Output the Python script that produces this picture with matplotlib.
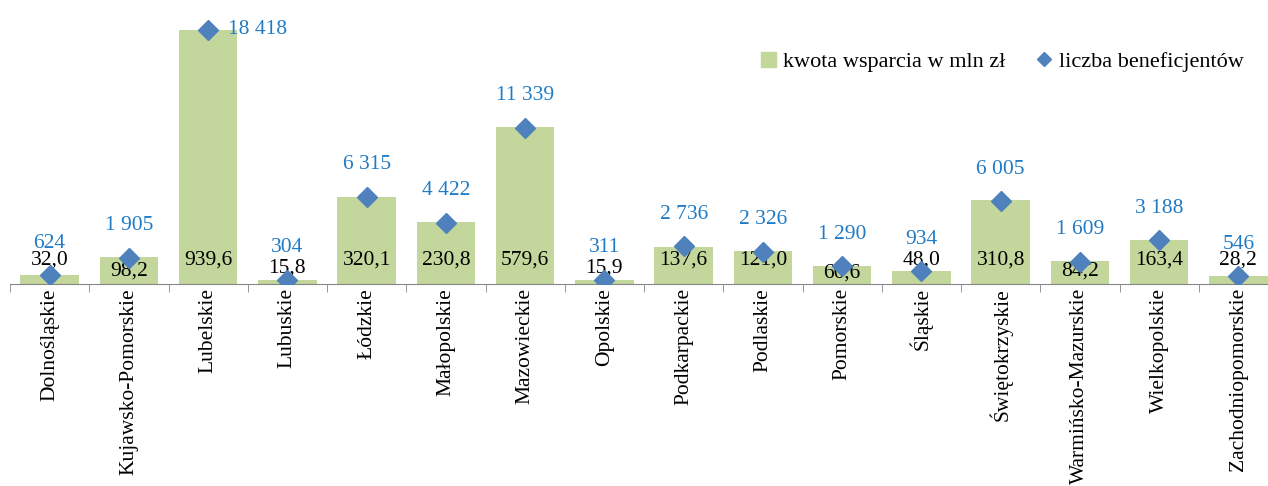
import matplotlib.pyplot as plt
import numpy as np
from matplotlib.lines import Line2D
from matplotlib.patches import Patch

# ------------------------------
# DATA
# ------------------------------
regions = ["Dolnośląskie", "Kujawsko-Pomorskie", "Lubelskie", "Lubuskie", "Łódzkie",
           "Małopolskie", "Mazowieckie", "Opolskie", "Podkarpackie", "Podlaskie",
           "Pomorskie", "Śląskie", "Świętokrzyskie", "Warmińsko-Mazurskie",
           "Wielkopolskie", "Zachodniopomorskie"]
kwota = [32.0, 98.2, 939.6, 15.8, 320.1, 230.8, 579.6, 15.9, 137.6, 121.0,
         66.6, 48.0, 310.8, 84.2, 163.4, 28.2]
beneficjenci = [624, 1905, 18418, 304, 6315, 4422, 11339, 311, 2736, 2326,
                1290, 934, 6005, 1609, 3188, 546]

bar_color = '#C3D69B'
dot_color = '#4F81BD'
lbl_blue = '#1F7BC6'

plt.rcParams['font.family'] = ['Liberation Serif', 'DejaVu Serif']

fig = plt.figure(figsize=(12.68, 4.86), dpi=100)
ax = fig.add_axes([10 / 1268, 202 / 486, 1268 / 1268, 284 / 486])
ax2 = ax.twinx()

x = np.arange(len(regions))
ax.bar(x, kwota, width=0.74, color=bar_color, zorder=1)
ax2.plot(x, beneficjenci, linestyle='none', marker='D', markersize=10.5,
         color=dot_color, zorder=3)

ax.set_xlim(-0.5, len(regions) - 0.5)
ax.set_ylim(0, 1050)
ax2.set_ylim(0, 20580)

# bar value labels (Excel pushed a few down to avoid collisions)
low = {1: 11, 3: 8, 7: 8, 10: 13, 13: 11}
for i, v in enumerate(kwota):
    dy = low.get(i, 0)
    ax.annotate(f"{v:.1f}".replace('.', ','), (i, 0), xytext=(0, 24 - dy),
                textcoords='offset pixels', ha='center', va='center',
                fontsize=15.5, color='black', zorder=4)

# beneficiary labels
for i, v in enumerate(beneficjenci):
    txt = f"{v:,}".replace(',', ' ')
    if i == 2:
        ax2.annotate(txt, (i, v), xytext=(20, 0), textcoords='offset pixels',
                     ha='left', va='center', fontsize=15.5, color=lbl_blue)
    else:
        ax2.annotate(txt, (i, v), xytext=(0, 32), textcoords='offset pixels',
                     ha='center', va='center', fontsize=15.5, color=lbl_blue)

for a in (ax, ax2):
    for s in ('top', 'left', 'right'):
        a.spines[s].set_visible(False)
    a.set_yticks([])
ax2.spines['bottom'].set_visible(False)
ax.spines['bottom'].set_color('#868686')

ax.set_xticks(x)
ax.set_xticklabels(regions, rotation=90, fontsize=15.5)
ax.tick_params(axis='x', length=0, pad=3)
ax.set_xticks(np.arange(-0.5, len(regions)), minor=True)
ax.tick_params(axis='x', which='minor', length=6, color='#868686', direction='out')

handles = [Patch(color=bar_color, label='kwota wsparcia w mln zł'),
           Line2D([], [], linestyle='none', marker='D', markersize=7, color=dot_color,
                  label='liczba beneficjentów')]
fig.legend(handles=handles, loc='center', bbox_to_anchor=(1002 / 1268, 1 - 62 / 486),
           ncol=2, frameon=False, fontsize=16, handlelength=0.7, handletextpad=0.3,
           columnspacing=1.4)

plt.savefig('out.png', dpi=100)
plt.close()
